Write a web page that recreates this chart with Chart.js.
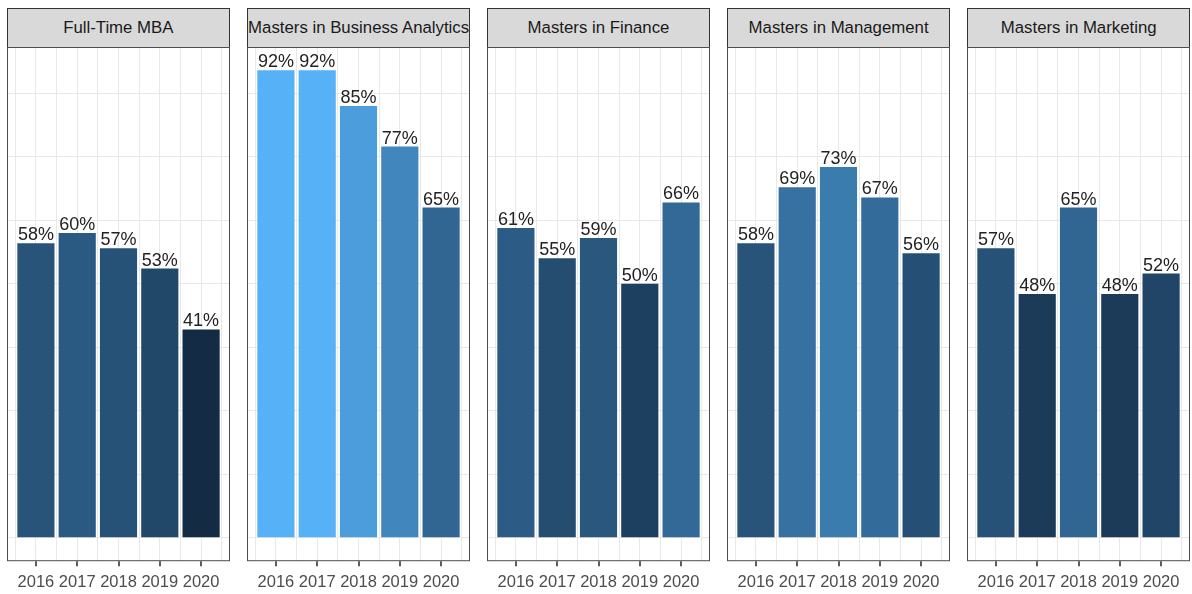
<!DOCTYPE html>
<html lang="en">
<head>
    <meta charset="UTF-8">
    <title>Program rates by year</title>
    <script src="https://cdn.jsdelivr.net/npm/chart.js"></script>
    <style>
        body {
            margin: 0;
            width: 1192px;
            height: 594px;
            background: #fff;
            position: relative;
            overflow: hidden;
            font-family: "Liberation Sans", Arial, sans-serif;
        }
        .strip {
            position: absolute;
            top: 8px;
            height: 40px;
            box-sizing: border-box;
            background: #d9d9d9;
            border: 1px solid #333;
            color: #1a1a1a;
            font-size: 16.8px;
            line-height: 38px;
            text-align: center;
            white-space: nowrap;
            overflow: hidden;
        }
        canvas {
            position: absolute;
            top: 47px;
        }
    </style>
</head>
<body>

<script>
    const programs = ['Full-Time MBA', 'Masters in Business Analytics', 'Masters in Finance', 'Masters in Management', 'Masters in Marketing'];
    const years = [2016, 2017, 2018, 2019, 2020];
    const fullTimeMBA = [58, 60, 57, 53, 41];
    const businessAnalytics = [92, 92, 85, 77, 65];
    const finance = [61, 55, 59, 50, 66];
    const management = [58, 69, 73, 67, 56];
    const marketing = [57, 48, 65, 48, 52];
    const seriesList = [fullTimeMBA, businessAnalytics, finance, management, marketing];

    const panelW = 222.6;
    const panelGap = 17.5;
    const firstLeft = 7;
    const pad = 20;

    // ggplot default gradient, interpolated in Lab
    const lowColor = '#132B43';
    const highColor = '#56B1F7';

    function hexToRgb(h) {
        return [1, 3, 5].map(i => parseInt(h.substr(i, 2), 16) / 255);
    }
    function toLin(c) { return c <= 0.04045 ? c / 12.92 : Math.pow((c + 0.055) / 1.055, 2.4); }
    function fromLin(c) { return c <= 0.0031308 ? 12.92 * c : 1.055 * Math.pow(c, 1 / 2.4) - 0.055; }
    const wp = [0.95047, 1, 1.08883];
    function rgbToLab(rgb) {
        const [r, g, b] = rgb.map(toLin);
        const xyz = [
            r * 0.4124 + g * 0.3576 + b * 0.1805,
            r * 0.2126 + g * 0.7152 + b * 0.0722,
            r * 0.0193 + g * 0.1192 + b * 0.9505
        ].map((v, i) => v / wp[i]);
        const f = t => t > 0.008856 ? Math.cbrt(t) : 7.787 * t + 16 / 116;
        const [fx, fy, fz] = xyz.map(f);
        return [116 * fy - 16, 500 * (fx - fy), 200 * (fy - fz)];
    }
    function labToRgb(lab) {
        const fy = (lab[0] + 16) / 116;
        const fx = fy + lab[1] / 500;
        const fz = fy - lab[2] / 200;
        const inv = t => t * t * t > 0.008856 ? t * t * t : (t - 16 / 116) / 7.787;
        const [x, y, z] = [inv(fx), inv(fy), inv(fz)].map((v, i) => v * wp[i]);
        const r = x * 3.2406 + y * -1.5372 + z * -0.4986;
        const g = x * -0.9689 + y * 1.8758 + z * 0.0415;
        const b = x * 0.0557 + y * -0.2040 + z * 1.0570;
        return [r, g, b].map(c => Math.round(Math.min(1, Math.max(0, fromLin(c))) * 255));
    }
    const lowLab = rgbToLab(hexToRgb(lowColor));
    const highLab = rgbToLab(hexToRgb(highColor));
    const allValues = seriesList.flat();
    const vMin = Math.min(...allValues);
    const vMax = Math.max(...allValues);
    function fillFor(v) {
        const t = (v - vMin) / (vMax - vMin);
        const lab = lowLab.map((c, i) => c + (highLab[i] - c) * t);
        const [r, g, b] = labToRgb(lab);
        return `rgb(${r}, ${g}, ${b})`;
    }

    const xGrid = [2015.5, 2016, 2016.5, 2017, 2017.5, 2018, 2018.5, 2019, 2019.5, 2020, 2020.5];
    const yGrid = [0, 12.5, 25, 37.5, 50, 62.5, 75, 87.5];

    const panelPlugin = {
        id: 'panelBits',
        afterDatasetsDraw(chart) {
            const ctx = chart.ctx;
            const a = chart.chartArea;
            const xs = chart.scales.x;
            ctx.save();
            // panel border
            ctx.strokeStyle = '#4d4d4d';
            ctx.lineWidth = 1;
            ctx.strokeRect(a.left + 0.5, a.top + 0.5, a.right - a.left - 1, a.bottom - a.top - 1);
            // tick marks at the years only
            ctx.strokeStyle = '#333';
            ctx.lineWidth = 1.6;
            years.forEach(y => {
                const px = Math.round(xs.getPixelForValue(y));
                ctx.beginPath();
                ctx.moveTo(px, a.bottom);
                ctx.lineTo(px, a.bottom + 5);
                ctx.stroke();
            });
            // value labels
            ctx.fillStyle = '#222';
            ctx.font = '18px "Liberation Sans", Arial, sans-serif';
            ctx.textAlign = 'center';
            ctx.textBaseline = 'bottom';
            const meta = chart.getDatasetMeta(0);
            const vals = chart.data.datasets[0].data;
            meta.data.forEach((bar, i) => {
                ctx.fillText(vals[i].y + '%', bar.x, bar.y + 1);
            });
            ctx.restore();
        }
    };

    function isYear(v) {
        return Math.abs(v - Math.round(v)) < 1e-6;
    }

    programs.forEach((name, p) => {
        const left = firstLeft + p * (panelW + panelGap);

        const strip = document.createElement('div');
        strip.className = 'strip';
        strip.style.left = left + 'px';
        strip.style.width = panelW + 'px';
        strip.textContent = name;
        document.body.appendChild(strip);

        const canvas = document.createElement('canvas');
        canvas.width = Math.round(panelW + 2 * pad);
        canvas.height = 552;
        canvas.style.left = (left - pad) + 'px';
        document.body.appendChild(canvas);

        const values = seriesList[p];
        new Chart(canvas, {
            type: 'bar',
            data: {
                datasets: [{
                    data: years.map((y, i) => ({ x: y, y: values[i] })),
                    backgroundColor: values.map(fillFor),
                    // sample size is the half-year grid step, so 1.8 of it = 0.9 year
                    barPercentage: 1.8,
                    categoryPercentage: 1.0
                }]
            },
            options: {
                responsive: false,
                animation: false,
                layout: { padding: { left: pad, right: pad, top: 0, bottom: 1 } },
                plugins: { legend: { display: false }, tooltip: { enabled: false } },
                scales: {
                    x: {
                        type: 'linear',
                        offset: false,
                        min: 2015.3,
                        max: 2020.7,
                        afterBuildTicks: s => { s.ticks = xGrid.map(v => ({ value: v })); },
                        grid: {
                            offset: false,
                            color: '#e8e8e8',
                            lineWidth: 1,
                            tickLength: 5,
                            tickColor: 'rgba(0,0,0,0)'
                        },
                        border: { display: false },
                        ticks: {
                            autoSkip: false,
                            maxRotation: 0,
                            padding: 6,
                            color: '#4d4d4d',
                            font: { size: 16.5, family: '"Liberation Sans", Arial, sans-serif' },
                            callback: v => isYear(v) ? String(Math.round(v)) : ''
                        }
                    },
                    y: {
                        min: -4.6,
                        max: 96.6,
                        afterBuildTicks: s => { s.ticks = yGrid.map(v => ({ value: v })); },
                        grid: { color: '#e8e8e8', lineWidth: 1, drawTicks: false },
                        border: { display: false },
                        ticks: { display: false }
                    }
                }
            },
            plugins: [panelPlugin]
        });
    });
</script>

</body>
</html>
